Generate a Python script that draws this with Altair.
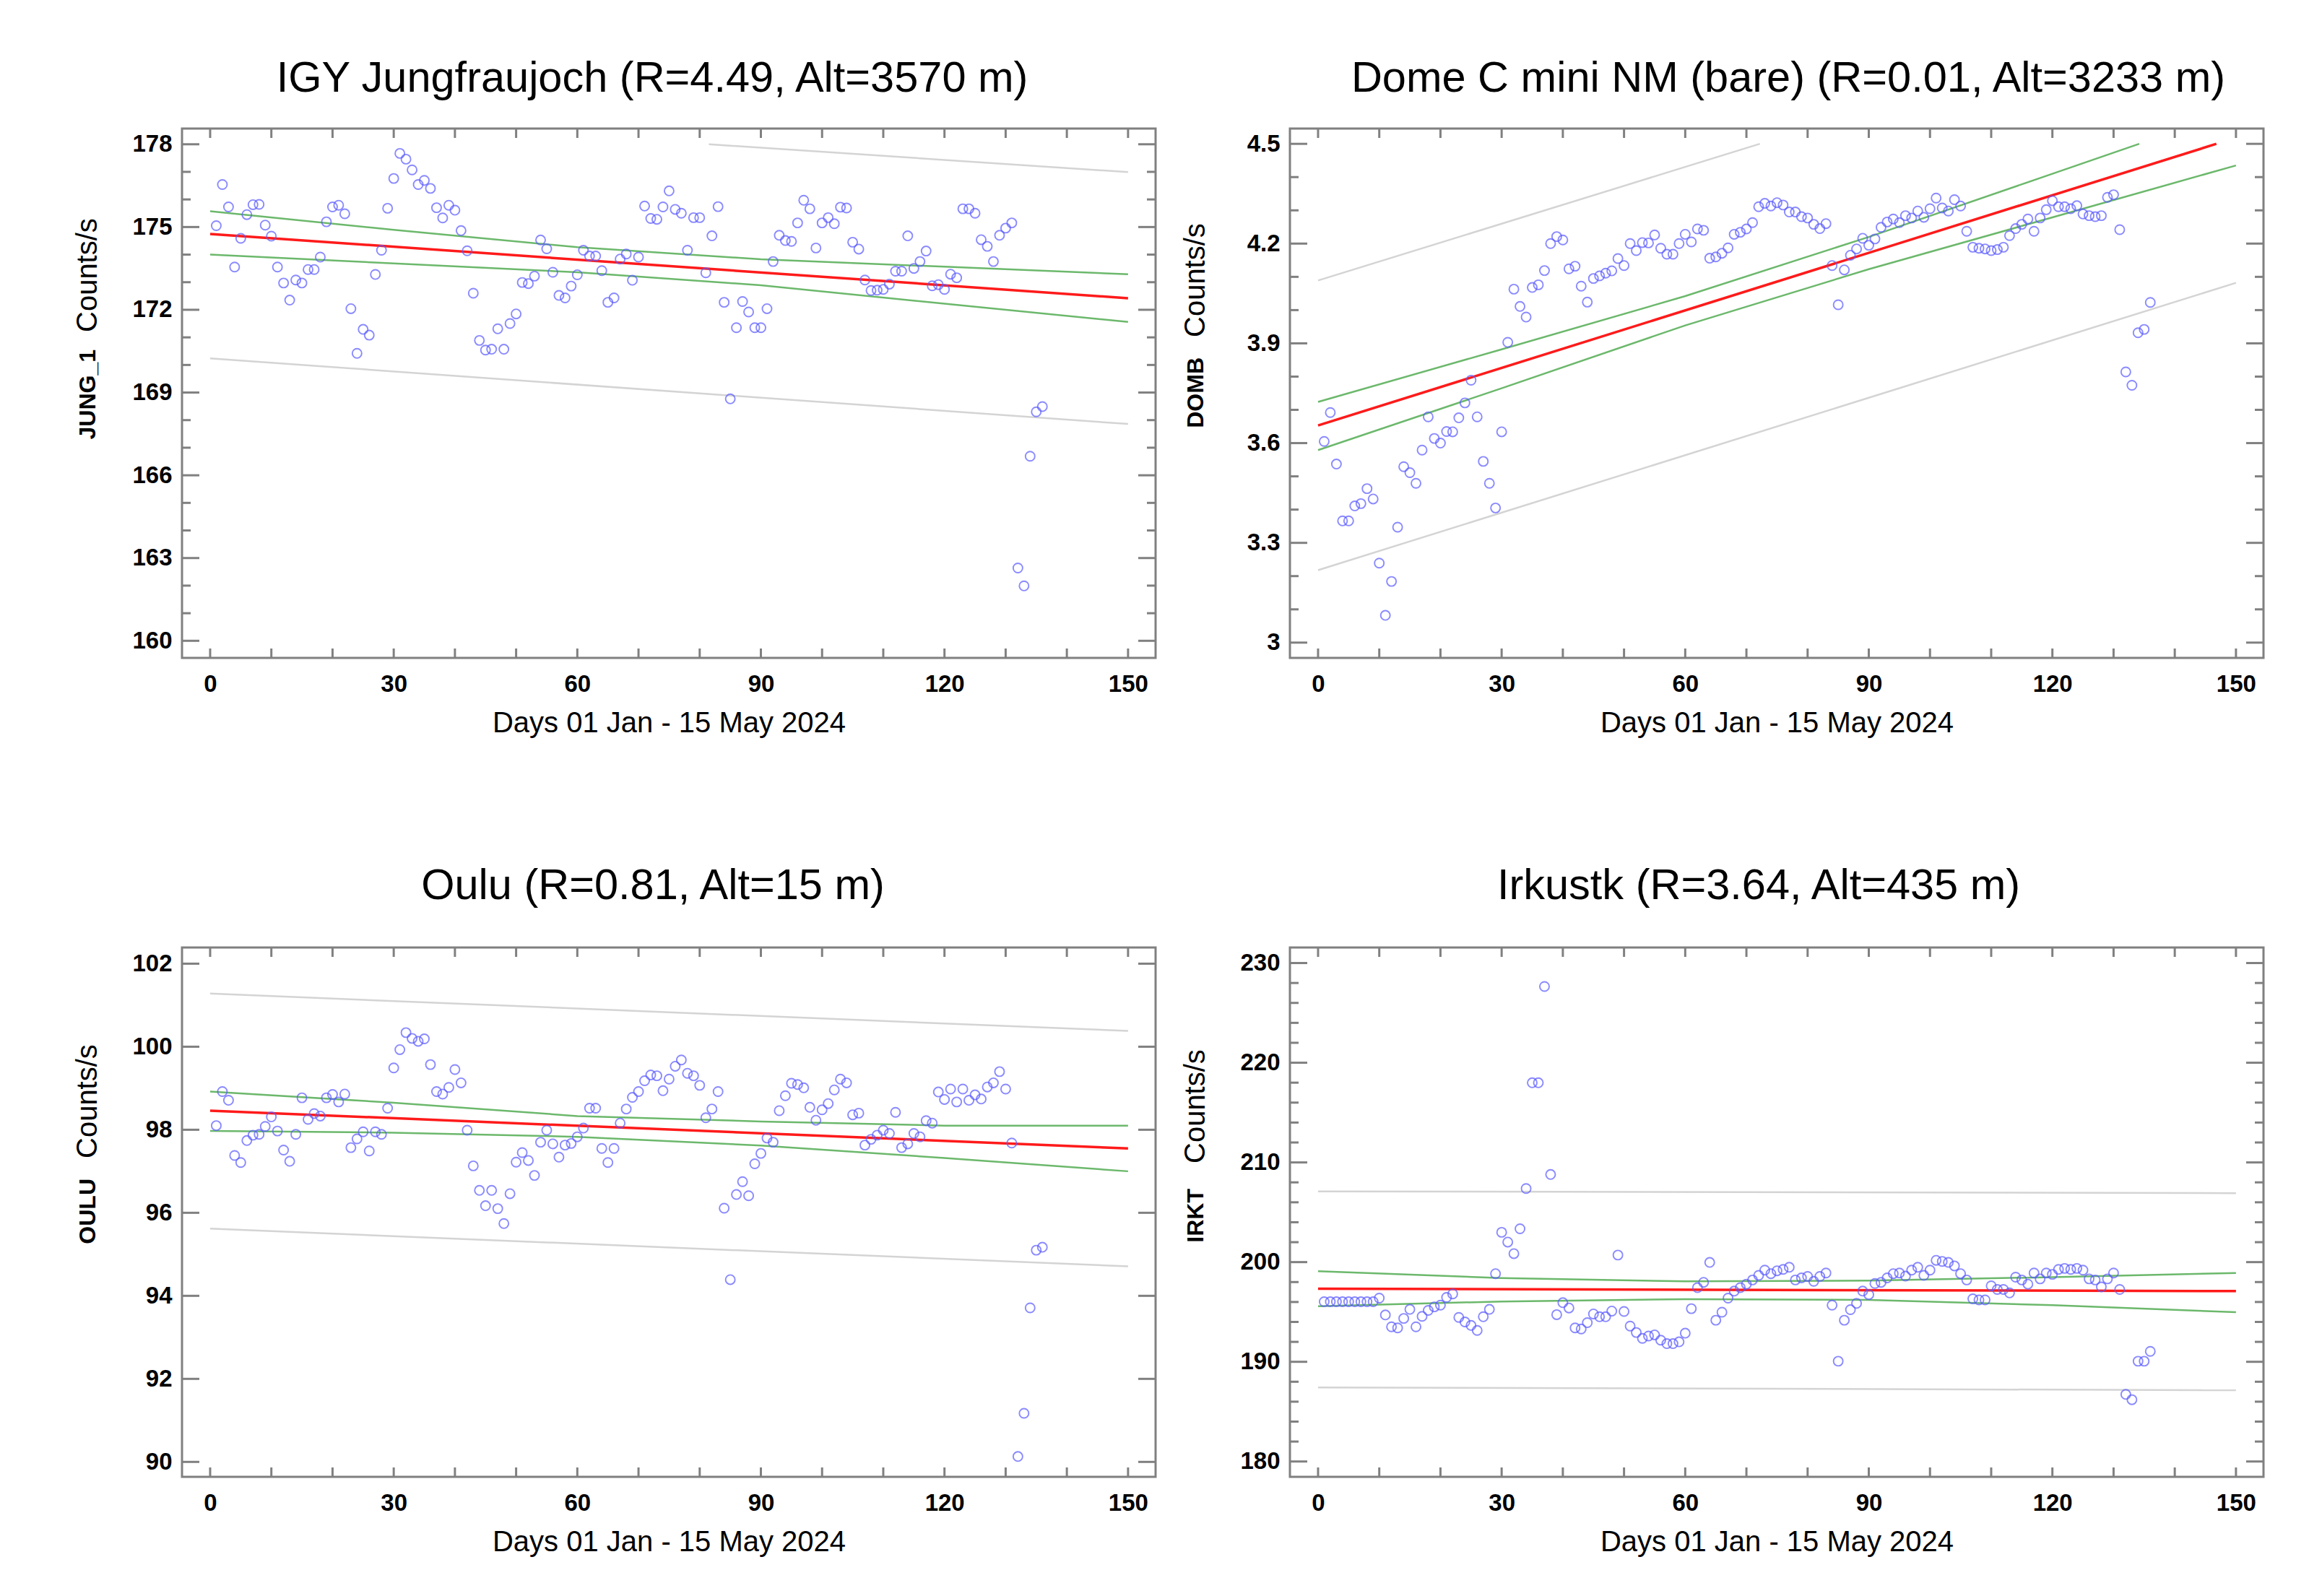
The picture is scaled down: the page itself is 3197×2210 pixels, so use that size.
import pandas as pd
import altair as alt

FONT = "Liberation Sans"
W, H = 1348, 733

days = list(range(1, 137))

jung = [175.05, 176.54, 175.73, 173.55, 174.59, 175.45, 175.81, 175.82, 175.07, 174.67,
        173.55, 172.97, 172.35, 173.08, 172.97, 173.46, 173.46, 173.91, 175.19, 175.73,
        175.79, 175.48, 172.04, 170.42, 171.29, 171.08, 173.28, 174.16, 175.68, 176.76,
        177.67, 177.46, 177.07, 176.54, 176.69, 176.40, 175.70, 175.33, 175.79, 175.61,
        174.87, 174.14, 172.60, 170.89, 170.54, 170.57, 171.31, 170.57, 171.50, 171.85,
        172.99, 172.95, 173.22, 174.53, 174.21, 173.36, 172.52, 172.43, 172.86, 173.27,
        174.16, 173.95, 173.95, 173.42, 172.27, 172.43, 173.84, 174.02, 173.07, 173.91,
        175.76, 175.31, 175.28, 175.73, 176.31, 175.64, 175.50, 174.16, 175.34, 175.34,
        173.34, 174.68, 175.74, 172.27, 168.77, 171.35, 172.30, 171.92, 171.35, 171.35,
        172.04, 173.75, 174.70, 174.51, 174.48, 175.15, 175.97, 175.66, 174.24, 175.15,
        175.34, 175.12, 175.72, 175.69, 174.45, 174.20, 173.08, 172.70, 172.71, 172.74,
        172.93, 173.40, 173.40, 174.68, 173.50, 173.75, 174.13, 172.87, 172.91, 172.74,
        173.29, 173.16, 175.66, 175.66, 175.50, 174.54, 174.30, 173.75, 174.70, 174.96,
        175.15, 162.64, 161.99, 166.69, 168.30, 168.49]

domb = [3.605, 3.692, 3.537, 3.366, 3.366, 3.411, 3.418, 3.463, 3.432, 3.239,
        3.082, 3.184, 3.347, 3.529, 3.511, 3.479, 3.579, 3.679, 3.614, 3.600,
        3.635, 3.634, 3.676, 3.721, 3.789, 3.679, 3.545, 3.479, 3.405, 3.634,
        3.903, 4.063, 4.011, 3.979, 4.068, 4.076, 4.119, 4.200, 4.221, 4.211,
        4.124, 4.132, 4.072, 4.024, 4.095, 4.103, 4.111, 4.118, 4.155, 4.134,
        4.200, 4.179, 4.203, 4.202, 4.226, 4.186, 4.168, 4.168, 4.200, 4.228,
        4.205, 4.244, 4.240, 4.156, 4.160, 4.171, 4.187, 4.228, 4.234, 4.244,
        4.263, 4.311, 4.321, 4.313, 4.323, 4.316, 4.295, 4.295, 4.281, 4.277,
        4.258, 4.245, 4.260, 4.134, 4.016, 4.121, 4.165, 4.184, 4.216, 4.195,
        4.214, 4.249, 4.265, 4.274, 4.263, 4.284, 4.277, 4.298, 4.279, 4.305,
        4.337, 4.307, 4.298, 4.332, 4.313, 4.237, 4.189, 4.186, 4.184, 4.179,
        4.182, 4.189, 4.224, 4.245, 4.258, 4.274, 4.237, 4.277, 4.302, 4.329,
        4.311, 4.311, 4.305, 4.314, 4.289, 4.284, 4.281, 4.284, 4.339, 4.347,
        4.242, 3.814, 3.774, 3.932, 3.942, 4.023]

oulu = [98.10, 98.92, 98.71, 97.38, 97.21, 97.74, 97.87, 97.89, 98.08, 98.31,
        97.97, 97.51, 97.24, 97.89, 98.77, 98.25, 98.39, 98.33, 98.77, 98.85,
        98.67, 98.86, 97.57, 97.78, 97.95, 97.49, 97.95, 97.89, 98.52, 99.49,
        99.93, 100.34, 100.20, 100.13, 100.19, 99.57, 98.92, 98.86, 99.02, 99.45,
        99.13, 97.99, 97.13, 96.54, 96.17, 96.54, 96.10, 95.74, 96.46, 97.22,
        97.45, 97.26, 96.90, 97.70, 97.99, 97.66, 97.34, 97.63, 97.67, 97.83,
        98.04, 98.52, 98.52, 97.55, 97.21, 97.55, 98.16, 98.50, 98.78, 98.92,
        99.18, 99.32, 99.30, 98.94, 99.22, 99.53, 99.68, 99.36, 99.30, 99.07,
        98.29, 98.50, 98.92, 96.11, 94.39, 96.44, 96.75, 96.41, 97.18, 97.43,
        97.80, 97.70, 98.46, 98.82, 99.12, 99.09, 99.01, 98.54, 98.23, 98.48,
        98.63, 98.96, 99.22, 99.13, 98.36, 98.40, 97.63, 97.77, 97.87, 97.99,
        97.91, 98.42, 97.57, 97.66, 97.91, 97.83, 98.22, 98.16, 98.91, 98.73,
        98.98, 98.67, 98.98, 98.71, 98.84, 98.74, 99.03, 99.13, 99.40, 98.98,
        97.68, 90.13, 91.17, 93.71, 95.10, 95.17]

irkt = [196.03, 196.03, 196.03, 196.03, 196.03, 196.03, 196.03, 196.03, 196.03, 196.39,
        194.70, 193.51, 193.40, 194.35, 195.26, 193.51, 194.56, 195.16, 195.51, 195.68,
        196.46, 196.81, 194.45, 194.00, 193.65, 193.15, 194.52, 195.26, 198.84, 202.99,
        202.01, 200.85, 203.34, 207.38, 217.99, 217.99, 227.65, 208.79, 194.73, 195.93,
        195.40, 193.40, 193.29, 193.93, 194.80, 194.52, 194.52, 195.09, 200.71, 195.05,
        193.58, 192.94, 192.35, 192.59, 192.70, 192.17, 191.82, 191.82, 192.00, 192.87,
        195.33, 197.44, 197.97, 199.97, 194.17, 194.98, 196.39, 197.09, 197.44, 197.79,
        198.21, 198.67, 199.20, 198.84, 199.13, 199.27, 199.48, 198.21, 198.42, 198.56,
        198.07, 198.56, 198.91, 195.68, 190.06, 194.17, 195.23, 195.86, 197.09, 196.74,
        197.86, 197.97, 198.42, 198.84, 198.91, 198.60, 199.20, 199.48, 198.67, 199.20,
        200.18, 200.07, 199.97, 199.62, 198.84, 198.21, 196.32, 196.21, 196.21, 197.62,
        197.26, 197.26, 196.91, 198.49, 198.21, 197.79, 198.91, 198.32, 198.91, 198.77,
        199.27, 199.37, 199.27, 199.37, 199.20, 198.32, 198.21, 197.51, 198.32, 198.91,
        197.26, 186.73, 186.20, 190.06, 190.06, 191.05]

# fitted line, confidence band (green) and prediction band (grey)
band_days = [0, 30, 60, 90, 120, 150]

jung_fit = ([0, 150], [174.75, 172.42])
jung_up = (band_days, [175.57, 174.90, 174.27, 173.83, 173.56, 173.29])
jung_lo = (band_days, [174.00, 173.68, 173.36, 172.89, 172.22, 171.56])
jung_pu = ([81.5, 150], [178.0, 176.99])
jung_pl = ([0, 150], [170.24, 167.86])

domb_fit = ([0, 146.8], [3.653, 4.5])
domb_up = ([0, 30, 60, 90, 120, 134.2], [3.724, 3.882, 4.042, 4.22, 4.41, 4.5])
domb_lo = (band_days, [3.579, 3.765, 3.954, 4.123, 4.279, 4.435])
domb_pu = ([0, 72.2], [4.089, 4.5])
domb_pl = ([0, 150], [3.218, 4.082])

oulu_fit = ([0, 150], [98.46, 97.55])
oulu_up = (band_days, [98.92, 98.65, 98.33, 98.20, 98.10, 98.10])
oulu_lo = (band_days, [97.97, 97.93, 97.83, 97.62, 97.32, 97.00])
oulu_pu = ([0, 150], [101.28, 100.38])
oulu_pl = ([0, 150], [95.62, 94.71])

irkt_fit = ([0, 150], [197.33, 197.09])
irkt_up = (band_days, [199.09, 198.40, 198.07, 198.14, 198.49, 198.91])
irkt_lo = (band_days, [195.58, 196.05, 196.28, 196.21, 195.68, 194.98])
irkt_pu = ([0, 150], [207.10, 206.92])
irkt_pl = ([0, 150], [187.43, 187.15])

x_labels = [0, 30, 60, 90, 120, 150]
x_ticks = [0, 10, 20, 30, 40, 50, 60, 70, 80, 90, 100, 110, 120, 130, 140, 150]

jung_major = [160, 163, 166, 169, 172, 175, 178]
jung_minor = [161, 162, 164, 165, 167, 168, 170, 171, 173, 174, 176, 177]
domb_major = [3.0, 3.3, 3.6, 3.9, 4.2, 4.5]
domb_minor = [3.1, 3.2, 3.4, 3.5, 3.7, 3.8, 4.0, 4.1, 4.3, 4.4]
oulu_major = [90, 92, 94, 96, 98, 100, 102]
oulu_minor = []
irkt_major = [180, 190, 200, 210, 220, 230]
irkt_minor = [182, 184, 186, 188, 192, 194, 196, 198, 202, 204, 206, 208,
              212, 214, 216, 218, 222, 224, 226, 228]

panels = [
    dict(title="IGY Jungfraujoch (R=4.49, Alt=3570 m)", label="JUNG_1", vals=jung,
         dom=[159.38, 178.57], major=jung_major, minor=jung_minor,
         fit=jung_fit, up=jung_up, lo=jung_lo, pu=jung_pu, pl=jung_pl,
         lab_y=306, cnt_y=282, toff=37, tdx=-23),
    dict(title="Dome C mini NM (bare) (R=0.01, Alt=3233 m)", label="DOMB", vals=domb,
         dom=[2.954, 4.546], major=domb_major, minor=domb_minor,
         fit=domb_fit, up=domb_up, lo=domb_lo, pu=domb_pu, pl=domb_pl,
         lab_y=317, cnt_y=289, toff=37, tdx=16),
    dict(title="Oulu (R=0.81, Alt=15 m)", label="OULU", vals=oulu,
         dom=[89.64, 102.39], major=oulu_major, minor=oulu_minor,
         fit=oulu_fit, up=oulu_up, lo=oulu_lo, pu=oulu_pu, pl=oulu_pl,
         lab_y=320, cnt_y=292, toff=53, tdx=-22),
    dict(title="Irkustk (R=3.64, Alt=435 m)", label="IRKT", vals=irkt,
         dom=[178.46, 231.56], major=irkt_major, minor=irkt_minor,
         fit=irkt_fit, up=irkt_up, lo=irkt_lo, pu=irkt_pu, pl=irkt_pl,
         lab_y=334, cnt_y=299, toff=53, tdx=-25),
]


def line_df(pair):
    return pd.DataFrame({"day": pair[0], "value": pair[1]})


def make_panel(p):
    x_enc = alt.X("day:Q", scale=alt.Scale(domain=[-4.6, 154.5], nice=False, zero=False),
                  axis=alt.Axis(values=x_labels, title="Days 01 Jan - 15 May 2024"))
    y_enc = alt.Y("value:Q", scale=alt.Scale(domain=p["dom"], nice=False, zero=False),
                  axis=alt.Axis(values=p["major"], format="~r", title=None))

    layers = []
    for key in ["pu", "pl"]:
        layers.append(alt.Chart(line_df(p[key])).mark_line(color="#d4d4d4", strokeWidth=2.5)
                      .encode(x=x_enc, y=y_enc))
    for key in ["up", "lo"]:
        layers.append(alt.Chart(line_df(p[key])).mark_line(color="#6cb86c", strokeWidth=2.5)
                      .encode(x=x_enc, y=y_enc))
    layers.append(alt.Chart(line_df(p["fit"])).mark_line(color="#ff1a1a", strokeWidth=3.5)
                  .encode(x=x_enc, y=y_enc))

    pts = pd.DataFrame({"day": days, "value": p["vals"]})
    layers.append(alt.Chart(pts).mark_point(shape="circle", filled=False, size=170,
                                            strokeWidth=1.9, color="#5a5aff")
                  .encode(x=x_enc, y=y_enc))

    # ticks drawn inside the frame, on all four sides
    xt = pd.DataFrame({"day": x_ticks})
    tick = dict(color="#808080", strokeWidth=3)
    layers.append(alt.Chart(xt).mark_rule(**tick)
                  .encode(x=x_enc, y=alt.value(0), y2=alt.value(13)))
    layers.append(alt.Chart(xt).mark_rule(**tick)
                  .encode(x=x_enc, y=alt.value(H - 13), y2=alt.value(H)))
    for vals, size in [(p["major"], 24), (p["minor"], 12)]:
        if not vals:
            continue
        yt = pd.DataFrame({"value": vals})
        layers.append(alt.Chart(yt).mark_rule(**tick)
                      .encode(y=y_enc, x=alt.value(0), x2=alt.value(size)))
        layers.append(alt.Chart(yt).mark_rule(**tick)
                      .encode(y=y_enc, x=alt.value(W - size), x2=alt.value(W)))

    # y axis title: bold station code followed by "Counts/s"
    one = pd.DataFrame({"k": [0]})
    layers.append(alt.Chart(one).mark_text(angle=270, align="right", baseline="middle",
                                           font=FONT, fontSize=32, fontWeight="bold",
                                           color="black", text=p["label"])
                  .encode(x=alt.value(-130), y=alt.value(p["lab_y"])))
    layers.append(alt.Chart(one).mark_text(angle=270, align="left", baseline="middle",
                                           font=FONT, fontSize=40, color="black",
                                           text="Counts/s")
                  .encode(x=alt.value(-130), y=alt.value(p["cnt_y"])))

    return alt.layer(*layers).properties(
        width=W, height=H,
        title=alt.TitleParams(p["title"], offset=p["toff"], dx=p["tdx"]),
    )


row1 = alt.hconcat(make_panel(panels[0]), make_panel(panels[1]), spacing=31)
row2 = alt.hconcat(make_panel(panels[2]), make_panel(panels[3]), spacing=31)

chart = (
    alt.vconcat(row1, row2, spacing=172)
    .properties(padding={"left": 92, "top": 69, "right": 10, "bottom": 10})
    .configure_view(stroke="#808080", strokeWidth=3)
    .configure_axis(labelFont=FONT, labelFontSize=33, labelFontWeight="bold",
                    labelColor="black", titleFont=FONT, titleFontSize=40,
                    titleFontWeight="normal", titleColor="black", ticks=False,
                    tickSize=0, domain=False, grid=False, labelFlush=False)
    .configure_axisX(labelPadding=20, titlePadding=17)
    .configure_axisY(labelPadding=14)
    .configure_title(font=FONT, fontSize=59.5, fontWeight="normal", color="black",
                     anchor="middle", frame="group", baseline="bottom")
)

chart.save("out.html", embed_options={"renderer": "svg", "actions": False})
